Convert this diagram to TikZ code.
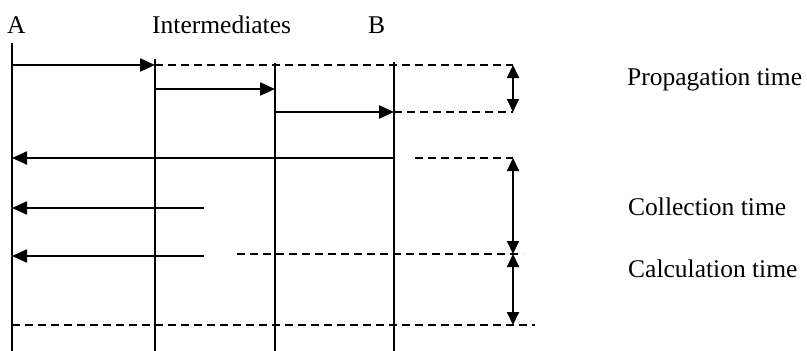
\documentclass[tikz,border=0pt]{standalone}
\usepackage{fontspec}
\setmainfont{Liberation Serif}
\usetikzlibrary{arrows.meta}

\begin{document}
\begin{tikzpicture}[x=1pt,y=-1pt,
    life/.style={line width=2pt},
    msg/.style={line width=2.3pt,-{Triangle[length=15pt,width=13pt]}},
    guide/.style={line width=1.7pt,dash pattern=on 8pt off 5pt},
    span/.style={line width=1.9pt,{Triangle[length=13pt,width=12pt]}-{Triangle[length=13pt,width=12pt]}},
    lbl/.style={anchor=base west,inner sep=0pt,font=\fontsize{25.5}{30}\selectfont}]
    \useasboundingbox (0,0) rectangle (807,351);

    % nodes on top
    \node[lbl] (A) at (7,33) {A};
    \node[lbl] (inter) at (152,33) {Intermediates};
    \node[lbl] (B) at (368,33) {B};

    % lifelines: a = A, i,j = intermediates, b = B
    \coordinate (atop) at (12,43);  \coordinate (abot) at (12,351);
    \coordinate (itop) at (155,59); \coordinate (ibot) at (155,351);
    \coordinate (jtop) at (275,63); \coordinate (jbot) at (275,351);
    \coordinate (btop) at (394,62); \coordinate (bbot) at (394,351);
    \draw[life] (atop) -- (abot);
    \draw[life] (itop) -- (ibot);
    \draw[life] (jtop) -- (jbot);
    \draw[life] (btop) -- (bbot);

    % marks on the time scale
    \coordinate (t0) at (513,65);
    \coordinate (t1) at (513,112);
    \coordinate (t2) at (513,158);
    \coordinate (t3) at (513,254);
    \coordinate (t4) at (513,325);

    % propagation A -> B
    \coordinate (m2) at (155,89);
    \draw[msg] (atop |- t0) -- (itop |- t0);
    \draw[msg] (m2) -- (jtop |- m2);
    \draw[msg] (jtop |- t1) -- (btop |- t1);

    % collection back to A
    \coordinate (r1) at (204,208);
    \coordinate (r2) at (204,256);
    \draw[msg] (btop |- t2) -- (atop |- t2);
    \draw[msg] (r1) -- (atop |- r1);
    \draw[msg] (r2) -- (atop |- r2);

    % dashed guides
    \coordinate (c0) at (415,158);
    \coordinate (c1) at (237,254);
    \coordinate (c1e) at (523,254);
    \coordinate (c2e) at (535,325);
    \draw[guide] (itop |- t0) -- (t0);
    \draw[guide] (btop |- t1) -- (t1);
    \draw[guide] (c0) -- (t2);
    \draw[guide] (c1) -- (c1e);
    \draw[guide] (atop |- t4) -- (c2e);

    % time spans
    \draw[span] (t0) -- (t1);
    \draw[span] (t2) -- (t3);
    \draw[span] (t3) -- (t4);

    \node[lbl] (prop) at (627,85) {Propagation time};
    \node[lbl] (coll) at (628,215) {Collection time};
    \node[lbl] (calc) at (628,277) {Calculation time};
\end{tikzpicture}
\end{document}
